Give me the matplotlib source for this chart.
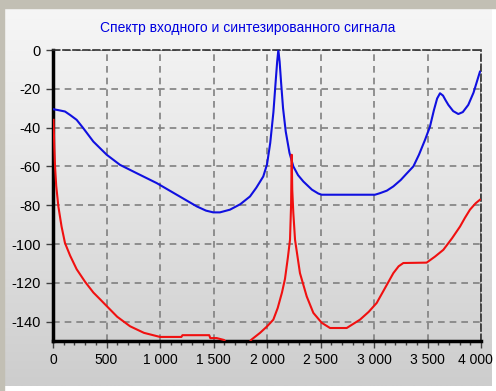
import numpy as np
import matplotlib
matplotlib.use("Agg")
import matplotlib.pyplot as plt
import matplotlib.transforms as mtransforms
from matplotlib.ticker import MultipleLocator, FuncFormatter
from matplotlib.patches import Rectangle

title = "Спектр входного и синтезированного сигнала"

blue_x = [0, 50, 112, 160, 221, 283, 377, 502, 626, 782, 969, 1156, 1343, 1430,
          1498, 1560, 1654, 1750, 1841, 1900, 1965, 2000, 2030, 2060, 2080, 2095, 2106,
          2118, 2132, 2150, 2175, 2210, 2246, 2290, 2340, 2420, 2480, 2511, 3009, 3056, 3120, 3181,
          3250, 3300, 3368, 3420, 3477, 3523, 3560, 3590, 3617, 3645, 3670, 3695, 3740, 3788, 3830,
          3881, 3930, 3990]
blue_y = [-30.5, -31, -31.7, -33.5, -36, -40.3, -47.2, -54, -59.2, -63.5, -68.6, -74.6, -80.6, -82.8,
          -83.7, -83.7, -82.3, -79.5, -75.5, -71, -65.2, -59, -48, -32, -17, -6, 0,
          -6, -17, -30, -42, -53, -60, -64.5, -67.8, -72, -74, -74.6, -74.6, -73.8, -72.5, -70.3,
          -67, -64, -60, -54, -46.3, -39.5, -31, -25, -22.3, -23.5, -26, -28.3, -31.5, -33, -32,
          -28.3, -22, -11.2]

red_x = [5, 12, 19, 30, 50, 80, 112, 160, 221, 300, 377, 440, 502, 600, 720, 850, 1000, 1200, 1210,
         1460, 1470, 1530, 1600, 1650, 1800, 1850, 1935, 2000, 2059, 2100, 2140, 2168, 2195, 2215,
         2225, 2231, 2236, 2246, 2262, 2308, 2371, 2433, 2511, 2589, 2745, 2869, 2950, 3025, 3100,
         3181, 3230, 3274, 3492, 3570, 3648, 3730, 3804, 3850, 3897, 3950, 3990]
red_y = [-36, -50, -60, -70, -80.6, -91, -99.5, -106, -113, -119.5, -125, -128.5, -132, -137.5,
         -142.4, -145.8, -147.9, -147.9, -147, -147, -148.5, -148.5, -149.5, -155, -155, -149.5,
         -145.8, -142.5, -139, -133, -125, -118, -107, -97.8, -80, -54, -72, -84, -97.8, -115,
         -127, -135.5, -140.6, -143.3, -143.3, -139, -135, -130.4, -123, -115, -111.5, -109.8,
         -109.6, -106.5, -103, -97, -91, -86.5, -82.3, -79, -77.2]

x_ticks = [0, 500, 1000, 1500, 2000, 2500, 3000, 3500, 4000]
y_ticks = [0, -20, -40, -60, -80, -100, -120, -140]

plt.rcParams['font.family'] = ['Liberation Sans Narrow', 'Liberation Sans', 'DejaVu Sans']

fig = plt.figure(figsize=(4.96, 3.91), dpi=100)
fig.patch.set_facecolor('white')

# background panel with gradient
bg = fig.add_axes([0, 0, 1, 1], zorder=-10)
bg.set_xlim(0, 496)
bg.set_ylim(391, 0)
bg.axis('off')
grad = np.linspace(0, 1, 256)[:, None]
cmap = matplotlib.colors.LinearSegmentedColormap.from_list('g', ['#f6f6f6', '#e4e4e4', '#cdcdcd'])
bg.imshow(grad, extent=[4, 492, 386, 8], aspect='auto', cmap=cmap, zorder=0)
bg.add_patch(Rectangle((0, 0), 496, 8, color='#c2bfb4', zorder=1))
bg.add_patch(Rectangle((0, 0), 4, 391, color='#c2bfb4', zorder=1))

ax = fig.add_axes([53 / 496, 1 - 341 / 391, (481 - 53) / 496, (341 - 50) / 391])
ax.patch.set_alpha(0)
ax.set_xlim(0, 4000)
ax.set_ylim(-150, 0)

ax.plot(blue_x, blue_y, color='#1010e0', lw=1.5, zorder=3)
ax.plot(red_x, red_y, color='#f01010', lw=1.5, zorder=3)

ax.xaxis.set_major_locator(plt.FixedLocator(x_ticks))
ax.xaxis.set_minor_locator(MultipleLocator(100))
ax.yaxis.set_major_locator(plt.FixedLocator(y_ticks))
ax.xaxis.set_major_formatter(FuncFormatter(lambda v, p: f"{int(v):,}".replace(",", " ")))
ax.yaxis.set_major_formatter(FuncFormatter(lambda v, p: f"{int(v)}"))

ax.grid(True, which='major', color='#808080', linestyle=(0, (4, 3)), lw=1.2)
for s in ['top', 'right']:
    ax.spines[s].set_linestyle((0, (4, 2)))
    ax.spines[s].set_linewidth(1.2)
    ax.spines[s].set_color('#303030')
for s in ['left', 'bottom']:
    ax.spines[s].set_linewidth(2.5)
    ax.spines[s].set_color('black')

ax.tick_params(axis='both', which='major', length=5, width=1, color='#404040',
               labelsize=10.5, labelcolor='black', pad=4)
ax.tick_params(axis='x', which='major', labelsize=10)
ax.tick_params(axis='x', which='minor', length=3, width=1, color='#404040')

# nudge the last x label so it stays inside the figure
fig.canvas.draw()
last = ax.get_xticklabels()[-1]
last.set_transform(last.get_transform() + mtransforms.ScaledTranslation(-6 / 100, 0, fig.dpi_scale_trans))

fig.text(248 / 496, 1 - 28 / 391, title, color='#0000e0', fontsize=10, ha='center', va='center')

fig.savefig('out.png', dpi=100)
